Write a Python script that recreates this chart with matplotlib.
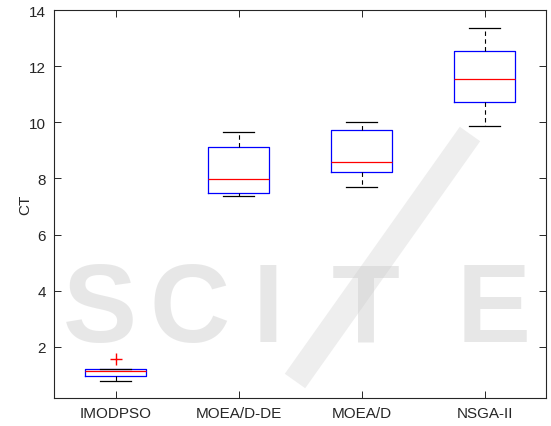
import matplotlib
matplotlib.use("Agg")
import matplotlib.pyplot as plt
from matplotlib.lines import Line2D

plt.rcParams['font.family'] = ['Liberation Sans', 'DejaVu Sans']

# CT results per algorithm (box summary read as quartiles / whiskers)
algorithms = ["IMODPSO", "MOEA/D-DE", "MOEA/D", "NSGA-II"]
q1 = [0.97, 7.49, 8.24, 10.71]
median = [1.13, 7.97, 8.60, 11.53]
q3 = [1.22, 9.12, 9.74, 12.53]
whisker_low = [0.78, 7.39, 7.70, 9.87]
whisker_high = [1.22, 9.67, 10.02, 13.37]
outliers = [[1.57], [], [], []]

y_ticks = [2, 4, 6, 8, 10, 12, 14]

fig = plt.figure(figsize=(5.51, 4.27), dpi=100)
ax = fig.add_axes([0.098, 0.0656, 0.893, 0.9085])

stats = []
for i, name in enumerate(algorithms):
    stats.append(dict(label=name, q1=q1[i], med=median[i], q3=q3[i],
                      whislo=whisker_low[i], whishi=whisker_high[i],
                      fliers=outliers[i]))

ax.bxp(stats, positions=range(1, len(algorithms) + 1), widths=0.5,
       boxprops=dict(color="#0000ff", linewidth=0.9),
       medianprops=dict(color="#ff0000", linewidth=0.9),
       whiskerprops=dict(color="black", linewidth=0.8, linestyle=(0, (4, 3))),
       capprops=dict(color="black", linewidth=0.9),
       flierprops=dict(marker="+", markeredgecolor="#ff0000", markersize=8,
                       markeredgewidth=1.0, linestyle="none"),
       capwidths=0.25)

ax.set_xlim(0.5, 4.5)
ax.set_ylim(0.18, 14)
ax.set_yticks(y_ticks)
ax.set_xticklabels(algorithms)
ax.set_ylabel("CT", fontsize=11, color="#262626")
ax.yaxis.set_label_coords(-0.045, 0.5)

ax.tick_params(direction="in", top=True, right=True, labelsize=11,
               colors="#262626", length=5, width=0.7, pad=6)
for side in ax.spines.values():
    side.set_color("#262626")
    side.set_linewidth(0.8)

# faint publisher watermark across the lower half
wm = "#c8c8c8"
for letter, xc in zip("SCITE", [100, 190, 268, 366, 494]):
    fig.text(xc / 551, 1 - 313 / 427, letter, fontsize=80, fontweight="bold",
             color=wm, alpha=0.42, ha="center", va="center", zorder=10)
fig.add_artist(Line2D([295 / 551, 470 / 551], [1 - 382 / 427, 1 - 135 / 427],
                      transform=fig.transFigure, color=wm, alpha=0.3,
                      linewidth=18, solid_capstyle="butt", zorder=10))

fig.savefig("out.png", dpi=100)
